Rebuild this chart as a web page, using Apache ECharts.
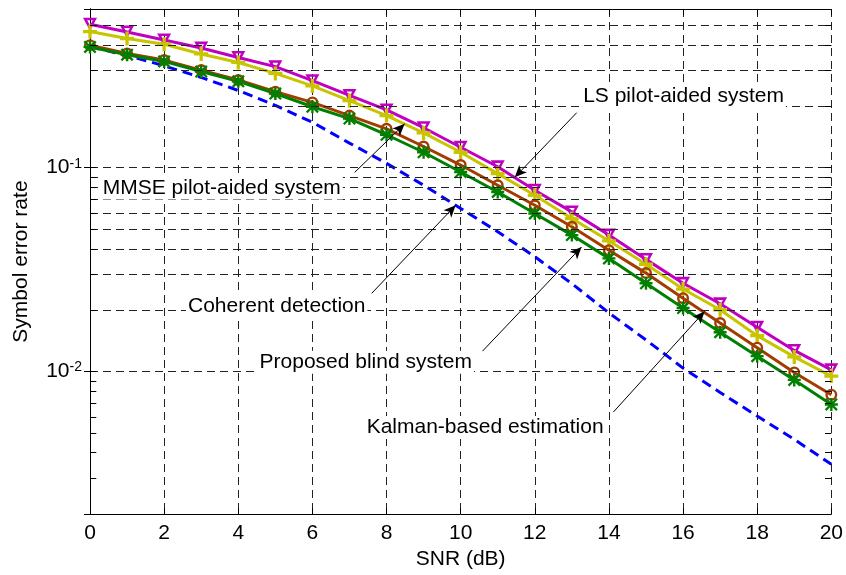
<!DOCTYPE html>
<html>
<head>
<meta charset="utf-8">
<title>Symbol error rate vs SNR</title>
<script src="https://cdn.jsdelivr.net/npm/echarts@6/dist/echarts.min.js"></script>
<style>
  html, body { margin: 0; padding: 0; background: #fff; }
  #chart { width: 846px; height: 575px; }
</style>
</head>
<body>
<div id="chart"></div>
<script>
// SNR points (dB)
const snrDb = [0, 1, 2, 3, 4, 5, 6, 7, 8, 9, 10, 11, 12, 13, 14, 15, 16, 17, 18, 19, 20];

// Symbol error rate of each receiver
const lsPilot = [0.505, 0.463, 0.423, 0.386, 0.347, 0.313, 0.267, 0.226, 0.192, 0.157, 0.126,
                 0.101, 0.0775, 0.0607, 0.0467, 0.0355, 0.0271, 0.0215, 0.0165, 0.0127, 0.0102];
const mmsePilot = [0.465, 0.430, 0.403, 0.361, 0.328, 0.290, 0.252, 0.213, 0.180, 0.148, 0.119,
                   0.0935, 0.0732, 0.0563, 0.0438, 0.0336, 0.0254, 0.0201, 0.0150, 0.0118, 0.0095];
const kalman = [0.399, 0.363, 0.337, 0.301, 0.269, 0.236, 0.209, 0.180, 0.155, 0.127, 0.103,
                0.0820, 0.0654, 0.0513, 0.0394, 0.0304, 0.0229, 0.0173, 0.0131, 0.0099, 0.0077];
const proposedBlind = [0.391, 0.358, 0.332, 0.296, 0.265, 0.231, 0.199, 0.174, 0.145, 0.119, 0.0952,
                       0.0760, 0.0596, 0.0467, 0.0359, 0.0271, 0.0205, 0.0156, 0.0119, 0.0091, 0.0069];
const coherent = [0.392, 0.355, 0.316, 0.277, 0.239, 0.202, 0.167, 0.132, 0.105, 0.082, 0.0631,
                  0.0485, 0.0366, 0.0270, 0.0194, 0.0143, 0.0104, 0.0079, 0.00605, 0.00465, 0.00351];

// Axis ranges and grid levels
const snrRange = [0, 20];
const serRange = [0.002, 0.6];
const serGridLevels = [0.003, 0.004, 0.005, 0.006, 0.007, 0.008, 0.009, 0.01,
                       0.02, 0.03, 0.04, 0.05, 0.06, 0.07, 0.08, 0.09, 0.1,
                       0.2, 0.3, 0.4, 0.5];

// Callout texts with their anchor, arrow tail and arrow head (SNR dB, SER)
const calloutText = ['LS pilot-aided system', 'MMSE pilot-aided system', 'Coherent detection',
                     'Proposed blind system', 'Kalman-based estimation'];
const calloutAnchor = [[13.25, 0.223], [0.29, 0.0795], [2.59, 0.0210], [4.52, 0.0111], [7.41, 0.00532]];
const calloutTail = [[13.13, 0.186], [7.14, 0.0948], [7.60, 0.0242], [10.59, 0.0126], [14.12, 0.00633]];
const calloutHead = [[11.46, 0.0897], [8.49, 0.164], [9.865, 0.0654], [13.26, 0.0408], [16.58, 0.0197]];

const FONT = '"Liberation Sans", Arial, Helvetica, sans-serif';

// Marker shapes (unfilled markers are drawn as rings)
const triangleDownOutline = 'path://M0,0L12,0L6,11ZM3.6,2.2L6,6.6L8.4,2.2Z';
const circleOutline = 'path://M6,0A6,6,0,1,1,6,12A6,6,0,1,1,6,0ZM6,2.4A3.6,3.6,0,1,0,6,9.6A3.6,3.6,0,1,0,6,2.4Z';
const plusMark = 'path://M4.6,0H7.4V4.6H12V7.4H7.4V12H4.6V7.4H0V4.6H4.6Z';
const asteriskMark = 'path://M4.9,0H7.1V12H4.9ZM0,4.9H12V7.1H0ZM1.5,0L12,10.5L10.5,12L0,1.5ZM10.5,0L12,1.5L1.5,12L0,10.5Z';

const pairs = ys => snrDb.map((x, i) => [x, ys[i]]);

function curve(name, ys, color, symbol, symbolSize, z) {
  return {
    name, type: 'line', data: pairs(ys), z,
    symbol, symbolSize, showAllSymbol: true,
    lineStyle: { color, width: 3 },
    itemStyle: { color },
    emphasis: { disabled: true },
    silent: true
  };
}

const dash = [8, 5];
const minorTicks = [];
serGridLevels.forEach(v => {
  minorTicks.push([{ coord: [snrRange[0], v] }, { coord: [snrRange[0] + 0.17, v] }]);
  minorTicks.push([{ coord: [snrRange[1] - 0.17, v] }, { coord: [snrRange[1], v] }]);
});

const chart = echarts.init(document.getElementById('chart'), null, { renderer: 'canvas' });

chart.setOption({
  animation: false,
  backgroundColor: '#fff',
  textStyle: { fontFamily: FONT, color: '#000' },
  grid: { left: 90, right: 14, top: 9, bottom: 59 },
  xAxis: [{
    type: 'value', min: snrRange[0], max: snrRange[1], interval: 2, position: 'bottom',
    name: 'SNR (dB)', nameLocation: 'middle', nameGap: 34,
    nameTextStyle: { fontSize: 21, color: '#000', fontFamily: FONT },
    axisLine: { lineStyle: { color: '#000', width: 1 } },
    axisTick: { inside: true, length: 6, lineStyle: { color: '#000' } },
    axisLabel: { fontSize: 21, color: '#000', margin: 9, fontFamily: FONT },
    splitLine: { show: true, lineStyle: { type: dash, color: '#222', width: 1 } }
  }, {
    type: 'value', min: snrRange[0], max: snrRange[1], interval: 2, position: 'top',
    axisLine: { show: true, lineStyle: { color: '#000', width: 1 } },
    axisTick: { show: true, inside: true, length: 6, lineStyle: { color: '#000' } },
    axisLabel: { show: false },
    splitLine: { show: false }
  }],
  yAxis: [{
    type: 'log', logBase: 10, min: serRange[0], max: serRange[1], position: 'left',
    name: 'Symbol error rate', nameLocation: 'middle', nameGap: 58,
    nameTextStyle: { fontSize: 21, color: '#000', fontFamily: FONT },
    axisLine: { show: true, lineStyle: { color: '#000', width: 1 } },
    axisTick: { show: true, inside: true, length: 6, lineStyle: { color: '#000' } },
    axisLabel: {
      fontSize: 21, color: '#000', margin: 8, fontFamily: FONT,
      showMinLabel: false, showMaxLabel: false,
      formatter: v => {
        const lg = Math.log10(v);
        const e = Math.round(lg);
        if (Math.abs(lg - e) > 1e-6) return '';
        return '10{sup|' + e + '}';
      },
      rich: { sup: { fontSize: 14, verticalAlign: 'top', color: '#000', fontFamily: FONT, padding: [0, 0, 8, 0] } }
    },
    splitLine: { show: false }
  }, {
    type: 'log', logBase: 10, min: serRange[0], max: serRange[1], position: 'right',
    axisLine: { show: true, lineStyle: { color: '#000', width: 1 } },
    axisTick: { show: true, inside: true, length: 6, lineStyle: { color: '#000' } },
    axisLabel: { show: false },
    splitLine: { show: false }
  }],
  series: [
    {
      // dashed grid at every decade step plus inner minor ticks
      type: 'line', data: [], z: 1, silent: true,
      markLine: {
        silent: true, symbol: 'none', animation: false,
        label: { show: false },
        lineStyle: { type: dash, color: '#222', width: 1 },
        data: serGridLevels.map(v => ({ yAxis: v })).concat(
          minorTicks.map(p => [Object.assign({ lineStyle: { type: 'solid', color: '#000', width: 1 } }, p[0]), p[1]])
        )
      }
    },
    Object.assign(curve('Coherent detection', coherent, '#0000ff', 'none', 0, 2),
      { lineStyle: { color: '#0000ff', width: 3, type: [10, 6] } }),
    curve('LS pilot-aided system', lsPilot, '#c000c0', triangleDownOutline, [14, 13], 3),
    curve('MMSE pilot-aided system', mmsePilot, '#c8c400', plusMark, 14, 3),
    curve('Kalman-based estimation', kalman, '#a33c00', circleOutline, 12, 3),
    curve('Proposed blind system', proposedBlind, '#008000', asteriskMark, 13, 3),
    {
      // callouts
      type: 'line', data: [], z: 6, silent: true,
      markLine: {
        silent: true, animation: false,
        symbol: ['none', 'arrow'], symbolSize: [8, 12],
        label: { show: false },
        lineStyle: { type: 'solid', color: '#000', width: 1 },
        itemStyle: { color: '#000' },
        data: calloutTail.map((t, i) => [{ coord: t }, { coord: calloutHead[i] }])
      },
      markPoint: {
        silent: true, animation: false,
        symbol: 'circle', symbolSize: 0,
        label: {
          show: true, position: 'right', distance: 0,
          formatter: '{b}', fontSize: 21, color: '#000', fontFamily: FONT,
          backgroundColor: '#fff', padding: [1, 2]
        },
        data: calloutAnchor.map((a, i) => ({ name: calloutText[i], coord: a }))
      }
    }
  ]
});
</script>
</body>
</html>
